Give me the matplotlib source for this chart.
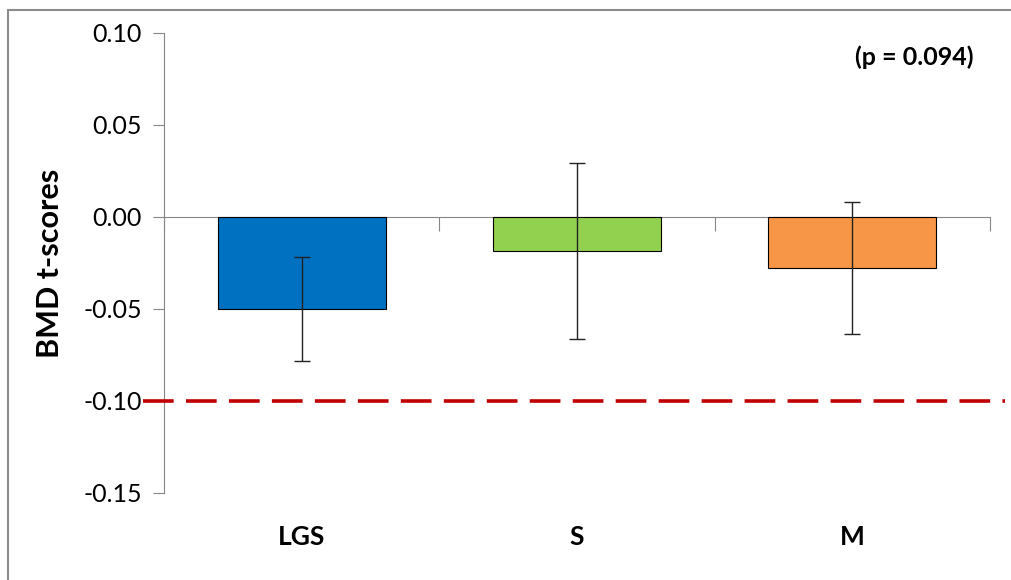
import matplotlib.pyplot as plt
from matplotlib.patches import Rectangle

# data
groups = ["LGS", "S", "M"]
means = [-0.050, -0.0185, -0.0277]
errors = [0.028, 0.048, 0.036]
bar_colors = ["#0070C0", "#92D050", "#F79646"]
ref_line = -0.10
y_ticks = [0.10, 0.05, 0.00, -0.05, -0.10, -0.15]
p_text = "(p = 0.094)"

plt.rcParams['font.family'] = ['Lato', 'DejaVu Sans']

fig = plt.figure(figsize=(10.11, 5.8), dpi=100)
# outer grey frame like the original chart area
fig.patches.append(Rectangle((8 / 1011, -0.01), 1.02, (580 - 10) / 580 + 0.01,
                             transform=fig.transFigure, fill=False,
                             edgecolor="#8c8c8c", linewidth=1.5))

ax = fig.add_axes([164 / 1011, 87 / 580, 826 / 1011, 460 / 580])
x = list(range(len(groups)))
ax.bar(x, means, width=0.61, color=bar_colors, edgecolor="black", linewidth=0.8, zorder=2)
ax.errorbar(x, means, yerr=errors, fmt="none", ecolor="#222222", elinewidth=1.0,
            capsize=6, capthick=1.0, zorder=3)

ax.set_xlim(-0.5, 2.5)
ax.set_ylim(-0.15, 0.10)

# dashed reference line, sticks out past the axes a bit
ax.plot([-0.576, 2.555], [ref_line, ref_line], color="#C00000", linestyle=(0, (8.5, 3.4)),
        linewidth=2.6, clip_on=False, zorder=4)

for s in ["top", "right"]:
    ax.spines[s].set_visible(False)
ax.spines["bottom"].set_position(("data", 0))
ax.spines["left"].set_color("#868686")
ax.spines["bottom"].set_color("#868686")
ax.spines["left"].set_zorder(1)
ax.spines["bottom"].set_zorder(1)

ax.set_yticks(y_ticks)
ax.set_yticklabels(["%.2f" % v for v in y_ticks], fontsize=18)
ax.tick_params(axis="y", length=8, color="#868686", pad=8)

ax.set_xticks([-0.5, 0.5, 1.5, 2.5])
ax.set_xticklabels([])
ax.tick_params(axis="x", length=10, color="#868686", direction="out")

for i, g in enumerate(groups):
    ax.text(i, -0.096, g, transform=ax.get_xaxis_transform(), ha="center", va="center",
            fontsize=19, fontweight="bold")

ax.set_ylabel("BMD t-scores", fontsize=22, fontweight="bold", labelpad=14)
ax.text(914, 580 - 57, p_text, transform=None, fontsize=18, fontweight="bold",
        ha="center", va="center")

fig.savefig("out.png", dpi=100)
